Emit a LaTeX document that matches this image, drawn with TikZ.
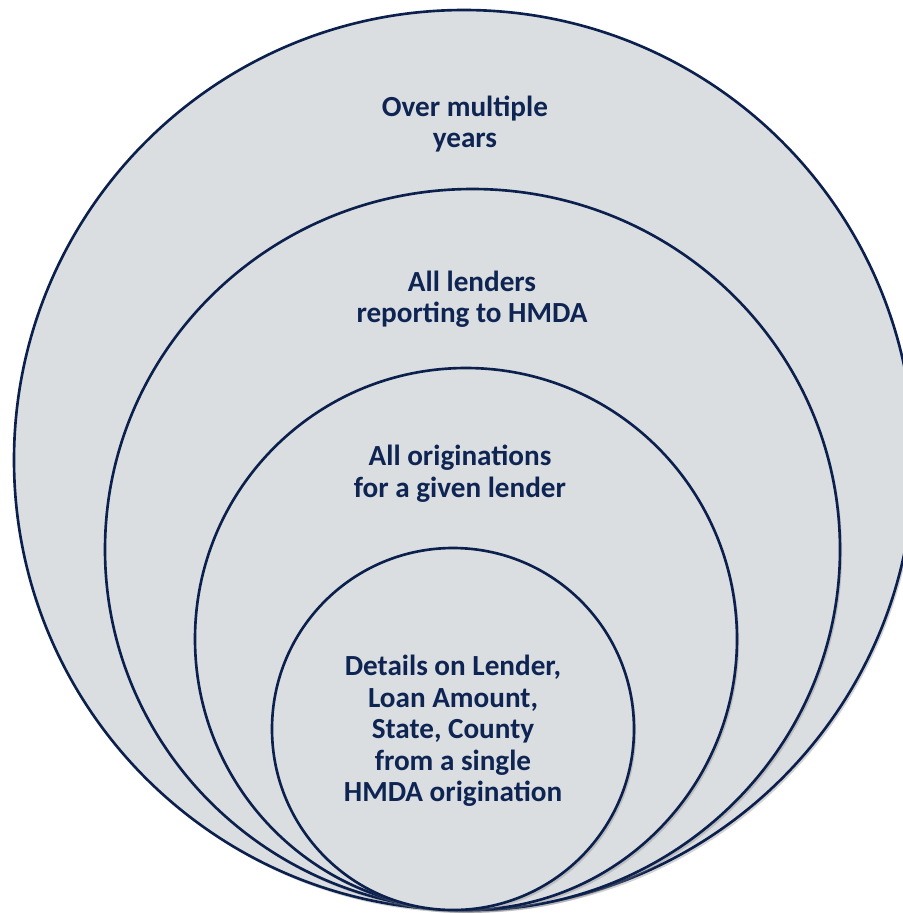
\documentclass[tikz,border=0pt]{standalone}
\usepackage{fontspec}
\setmainfont{Carlito}
\usetikzlibrary{shadows}
\definecolor{ringfill}{RGB}{219,222,225}
\definecolor{ringline}{RGB}{12,32,78}
\definecolor{ringtext}{RGB}{14,36,82}
\begin{document}
\begin{tikzpicture}[line cap=round,line join=round]
\tikzset{
  ring/.style={fill=ringfill,draw=ringline,line width=1.5pt,
    drop shadow={shadow xshift=1.2pt,shadow yshift=-1.6pt,opacity=0.35}},
  ringlabel/.style={text=ringtext,align=center,font=\bfseries\fontsize{16.6}{17.9}\selectfont}
}
\useasboundingbox (0,0) rectangle (18.06,-18.26);

% centres of the nested circles
\coordinate (O1) at (9.28,-9.20);
\coordinate (O2) at (9.45,-10.99);
\coordinate (O3) at (9.32,-12.78);
\coordinate (O4) at (9.06,-14.58);

% circles, largest first
\draw[ring] (O1) ellipse [x radius=9.00cm,y radius=9.00cm];
\draw[ring] (O2) ellipse [x radius=7.35cm,y radius=7.21cm];
\draw[ring] (O3) ellipse [x radius=5.42cm,y radius=5.42cm];
\draw[ring] (O4) ellipse [x radius=3.62cm,y radius=3.62cm];

% labels
\node[ringlabel] (years) at (9.30,-2.48) {Over multiple\\years};
\node[ringlabel] (lenders) at (9.44,-5.98) {All lenders\\reporting to HMDA};
\node[ringlabel] (origs) at (9.20,-9.47) {All originations\\for a given lender};
\node[ringlabel] (details) at (9.06,-14.62) {Details on Lender,\\Loan Amount,\\State, County\\from a single\\HMDA origination};

\end{tikzpicture}
\end{document}
